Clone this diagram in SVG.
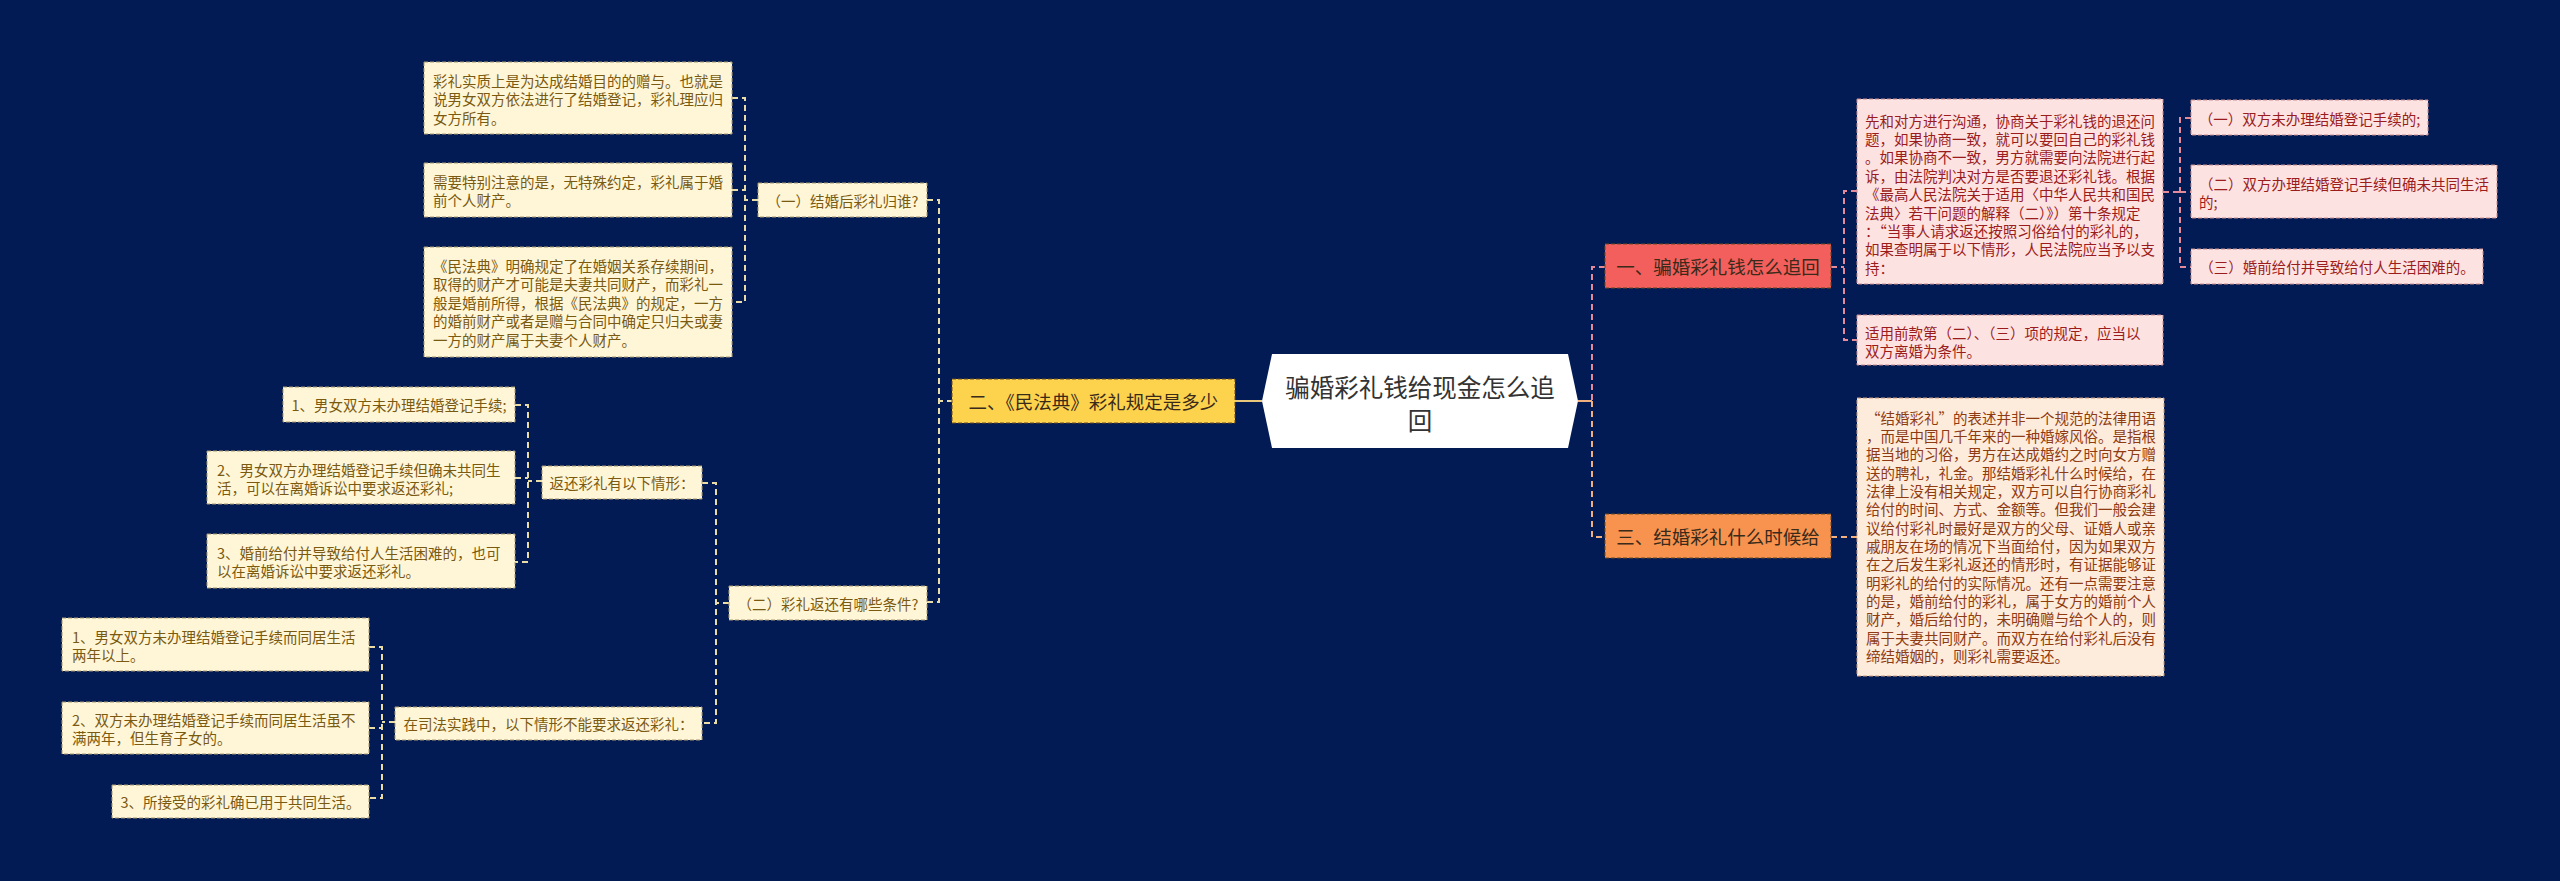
<svg xmlns="http://www.w3.org/2000/svg" width="2560" height="881" viewBox="0 0 2560 881">
<style>
text{font-family:"Noto Sans CJK SC","Noto Sans",sans-serif;dominant-baseline:central}
.lf rect{fill:#FFF6D8;stroke:#A89A70;stroke-width:1;stroke-dasharray:4 2}
.lf text{font-size:14.5px;fill:#7A5A10}
.pk rect{fill:#FDE2E2;stroke:#C98C8C;stroke-width:1;stroke-dasharray:4 2}
.pk text{font-size:14.5px;fill:#9A1C1C}
.pc rect{fill:#FDEBDC;stroke:#C99A7A;stroke-width:1;stroke-dasharray:4 2}
.pc text{font-size:14.5px;fill:#8E3B12}
.mn rect{stroke:#6A4A20;stroke-width:1;stroke-dasharray:4 2}
.mn text{font-size:18.5px;fill:#3A2A1A;text-anchor:middle}
.m{text-anchor:middle}
.cl{fill:none;stroke:#EADCA6;stroke-width:2;stroke-dasharray:6 4}
.cp{fill:none;stroke:#E58A98;stroke-width:2;stroke-dasharray:6 4}
.co{fill:none;stroke:#F2B07E;stroke-width:2;stroke-dasharray:6 4}
.cs{fill:none;stroke:#E8C77A;stroke-width:2}
.cso{fill:none;stroke:#F2B07E;stroke-width:2}
</style>
<rect x="0" y="0" width="2560" height="881" fill="#021B55"/>

<g id="connectors">
  <path class="cs" d="M1235,401 H1262"/>
  <path class="cl" d="M953,401 H939 M927,200 H939 V602 H927"/>
  <path class="cl" d="M758,200 H745 M732,98 H745 V302 H732 M732,190 H745"/>
  <path class="cl" d="M729,603 H716 M702,483 H716 V723 H702"/>
  <path class="cl" d="M542,481 H528 M515,405 H528 V562 H515 M515,478 H528"/>
  <path class="cl" d="M395,722 H382 M369,647 H382 V798 H369 M369,728 H382"/>
  <path class="cso" d="M1578,401 H1592"/>
  <path class="cp" d="M1605,267 H1592 V401"/>
  <path class="co" d="M1592,401 V537 H1605"/>
  <path class="cp" d="M1831,267 H1844 M1857,191 H1844 V340 H1857"/>
  <path class="cp" d="M2163,192 H2180 M2191,118 H2180 V267 H2191 M2180,192 H2191"/>
  <path class="co" d="M1831,537 H1857"/>
</g>

<g id="center">
  <polygon points="1272,354 1568,354 1578,401 1568,448 1272,448 1262,401" fill="#FFFFFF"/>
  <text class="m" x="1420" y="386" font-size="24.5" fill="#333333">骗婚彩礼钱给现金怎么追</text>
  <text class="m" x="1420" y="419" font-size="24.5" fill="#333333">回</text>
</g>

<g id="n-er" class="mn">
  <rect x="952" y="379" width="283" height="44" fill="#FDD34E"/>
  <text x="1093.5" y="401">二、《民法典》彩礼规定是多少</text>
</g>

<g id="n-yi1" class="lf">
  <rect x="758" y="183" width="169" height="34"/>
  <text class="m" x="842.5" y="200">（一）结婚后彩礼归谁?</text>
</g>

<g id="a1" class="lf">
  <rect x="424" y="62" width="308" height="72"/>
  <text x="433" y="80">彩礼实质上是为达成结婚目的的赠与。也就是</text>
  <text x="433" y="98.5">说男女双方依法进行了结婚登记，彩礼理应归</text>
  <text x="433" y="117">女方所有。</text>
</g>

<g id="a2" class="lf">
  <rect x="424" y="163" width="308" height="54"/>
  <text x="433" y="181.5">需要特别注意的是，无特殊约定，彩礼属于婚</text>
  <text x="433" y="199.5">前个人财产。</text>
</g>

<g id="a3" class="lf">
  <rect x="424" y="247" width="308" height="110"/>
  <text x="433" y="265">《民法典》明确规定了在婚姻关系存续期间，</text>
  <text x="433" y="283.5">取得的财产才可能是夫妻共同财产，而彩礼一</text>
  <text x="433" y="302">般是婚前所得，根据《民法典》的规定，一方</text>
  <text x="433" y="320.5">的婚前财产或者是赠与合同中确定只归夫或妻</text>
  <text x="433" y="339">一方的财产属于夫妻个人财产。</text>
</g>

<g id="n-er2" class="lf">
  <rect x="729" y="586" width="198" height="34"/>
  <text class="m" x="828" y="603">（二）彩礼返还有哪些条件?</text>
</g>

<g id="n-fh" class="lf">
  <rect x="542" y="466" width="160" height="33"/>
  <text class="m" x="622" y="482.5">返还彩礼有以下情形：</text>
</g>

<g id="b1" class="lf">
  <rect x="283" y="387" width="232" height="35"/>
  <text class="m" x="399" y="404.5">1、男女双方未办理结婚登记手续;</text>
</g>

<g id="b2" class="lf">
  <rect x="207" y="451" width="308" height="53"/>
  <text x="217" y="469">2、男女双方办理结婚登记手续但确未共同生</text>
  <text x="217" y="487">活，可以在离婚诉讼中要求返还彩礼;</text>
</g>

<g id="b3" class="lf">
  <rect x="207" y="534" width="308" height="54"/>
  <text x="217" y="552">3、婚前给付并导致给付人生活困难的，也可</text>
  <text x="217" y="570.5">以在离婚诉讼中要求返还彩礼。</text>
</g>

<g id="n-sf" class="lf">
  <rect x="395" y="707" width="307" height="33"/>
  <text class="m" x="548.5" y="723.5">在司法实践中，以下情形不能要求返还彩礼：</text>
</g>

<g id="c1" class="lf">
  <rect x="62" y="618" width="307" height="53"/>
  <text x="72" y="636">1、男女双方未办理结婚登记手续而同居生活</text>
  <text x="72" y="654">两年以上。</text>
</g>

<g id="c2" class="lf">
  <rect x="62" y="702" width="307" height="52"/>
  <text x="72" y="719.5">2、双方未办理结婚登记手续而同居生活虽不</text>
  <text x="72" y="737.5">满两年，但生育子女的。</text>
</g>

<g id="c3" class="lf">
  <rect x="112" y="785" width="257" height="33"/>
  <text class="m" x="240.5" y="801.5">3、所接受的彩礼确已用于共同生活。</text>
</g>

<g id="n-yi" class="mn">
  <rect x="1605" y="244" width="226" height="44" fill="#F25F5C"/>
  <text x="1718" y="266">一、骗婚彩礼钱怎么追回</text>
</g>

<g id="n-san" class="mn">
  <rect x="1605" y="514" width="226" height="44" fill="#F8934F"/>
  <text x="1718" y="536">三、结婚彩礼什么时候给</text>
</g>

<g id="d1" class="pk">
  <rect x="1857" y="99" width="306" height="185"/>
  <text x="1865" y="120">先和对方进行沟通，协商关于彩礼钱的退还问</text>
  <text x="1865" y="138.4">题，如果协商一致，就可以要回自己的彩礼钱</text>
  <text x="1865" y="156.8">。如果协商不一致，男方就需要向法院进行起</text>
  <text x="1865" y="175.2">诉，由法院判决对方是否要退还彩礼钱。根据</text>
  <text x="1865" y="193.6">《最高人民法院关于适用〈中华人民共和国民</text>
  <text x="1865" y="212">法典〉若干问题的解释（二）》）第十条规定</text>
  <text x="1865" y="230.4">：“当事人请求返还按照习俗给付的彩礼的，</text>
  <text x="1865" y="248.8">如果查明属于以下情形，人民法院应当予以支</text>
  <text x="1865" y="267.2">持：</text>
</g>

<g id="d2" class="pk">
  <rect x="1857" y="315" width="306" height="50"/>
  <text x="1865" y="332">适用前款第（二）、（三）项的规定，应当以</text>
  <text x="1865" y="350.5">双方离婚为条件。</text>
</g>

<g id="e1" class="pk">
  <rect x="2191" y="100" width="237" height="35"/>
  <text class="m" x="2309.5" y="118">（一）双方未办理结婚登记手续的;</text>
</g>

<g id="e2" class="pk">
  <rect x="2191" y="165" width="306" height="53"/>
  <text x="2199" y="183">（二）双方办理结婚登记手续但确未共同生活</text>
  <text x="2199" y="201">的;</text>
</g>

<g id="e3" class="pk">
  <rect x="2191" y="249" width="292" height="35"/>
  <text class="m" x="2337" y="266.5">（三）婚前给付并导致给付人生活困难的。</text>
</g>

<g id="f" class="pc">
  <rect x="1857" y="398" width="307" height="278"/>
  <text x="1866" y="417">“结婚彩礼”的表述并非一个规范的法律用语</text>
  <text x="1866" y="435.3">，而是中国几千年来的一种婚嫁风俗。是指根</text>
  <text x="1866" y="453.7">据当地的习俗，男方在达成婚约之时向女方赠</text>
  <text x="1866" y="472">送的聘礼，礼金。那结婚彩礼什么时候给，在</text>
  <text x="1866" y="490.3">法律上没有相关规定，双方可以自行协商彩礼</text>
  <text x="1866" y="508.7">给付的时间、方式、金额等。但我们一般会建</text>
  <text x="1866" y="527">议给付彩礼时最好是双方的父母、证婚人或亲</text>
  <text x="1866" y="545.3">戚朋友在场的情况下当面给付，因为如果双方</text>
  <text x="1866" y="563.7">在之后发生彩礼返还的情形时，有证据能够证</text>
  <text x="1866" y="582">明彩礼的给付的实际情况。还有一点需要注意</text>
  <text x="1866" y="600.3">的是，婚前给付的彩礼，属于女方的婚前个人</text>
  <text x="1866" y="618.7">财产，婚后给付的，未明确赠与给个人的，则</text>
  <text x="1866" y="637">属于夫妻共同财产。而双方在给付彩礼后没有</text>
  <text x="1866" y="655.3">缔结婚姻的，则彩礼需要返还。</text>
</g>
</svg>
